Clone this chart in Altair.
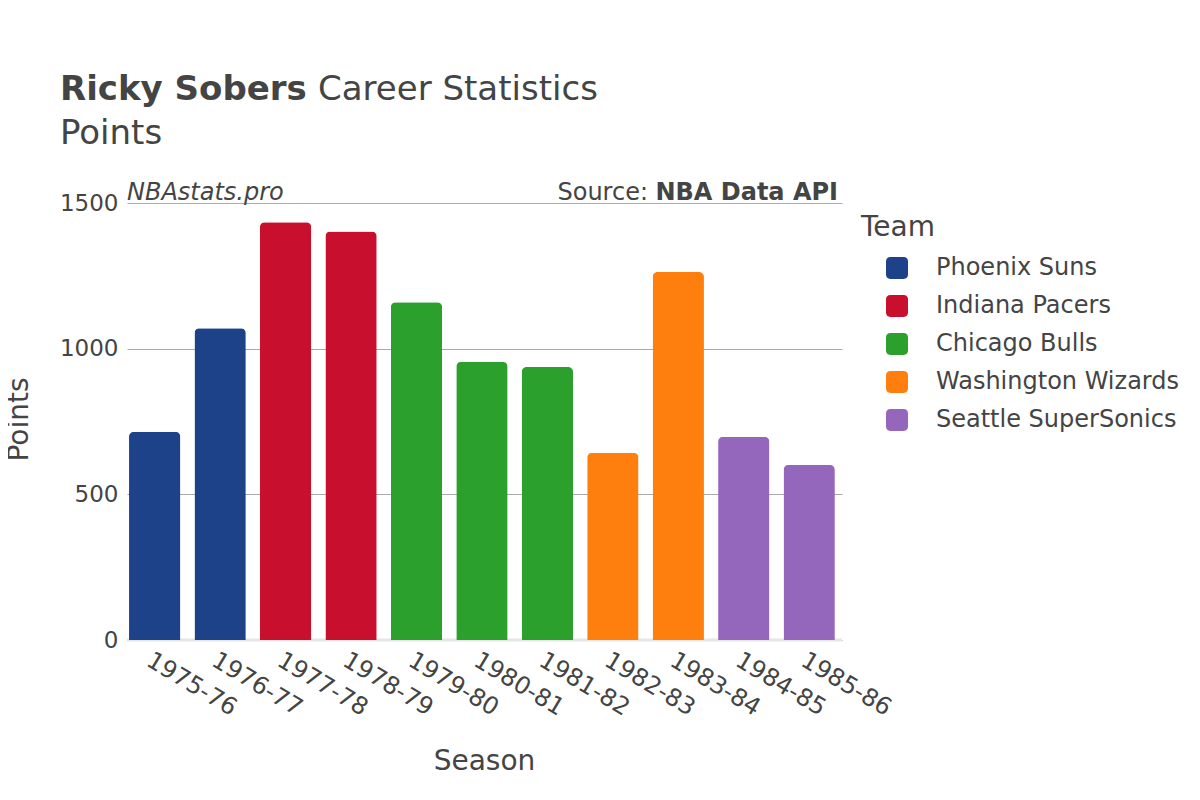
import altair as alt
import pandas as pd

seasons = ["1975-76", "1976-77", "1977-78", "1978-79", "1979-80", "1980-81",
           "1981-82", "1982-83", "1983-84", "1984-85", "1985-86"]
points = [715, 1070, 1434, 1402, 1159, 955, 937, 643, 1263, 698, 601]
teams = ["Phoenix Suns", "Phoenix Suns", "Indiana Pacers", "Indiana Pacers",
         "Chicago Bulls", "Chicago Bulls", "Chicago Bulls",
         "Washington Wizards", "Washington Wizards",
         "Seattle SuperSonics", "Seattle SuperSonics"]
team_order = ["Phoenix Suns", "Indiana Pacers", "Chicago Bulls",
              "Washington Wizards", "Seattle SuperSonics"]
team_colors = ["#1d428a", "#c8102e", "#2ca02c", "#ff7f0e", "#9467bd"]
y_ticks = [0, 500, 1000, 1500]

title_bold = ["Ricky Sobers"]
title_rest = ["Career Statistics"]
subtitle = ["Points"]
watermark = ["NBAstats.pro"]
source_lbl = ["Source:"]
source_bold = ["NBA Data API"]

df = pd.DataFrame({"Season": seasons, "Points": points, "Team": teams})

TXT = "#444444"
FONT = "DejaVu Sans"

rounded = ("M-0.6,-1H0.6C0.85,-1 1,-0.85 1,-0.6V0.6C1,0.85 0.85,1 0.6,1H-0.6"
           "C-0.85,1 -1,0.85 -1,0.6V-0.6C-1,-0.85 -0.85,-1 -0.6,-1Z")

bars = alt.Chart(df).mark_bar(cornerRadiusTopLeft=5, cornerRadiusTopRight=5).encode(
    x=alt.X("Season:N", sort=seasons,
            scale=alt.Scale(paddingInner=0.216, paddingOuter=0.07, align=0.22),
            axis=alt.Axis(title="Season", labelAngle=31, labelAlign="left",
                          labelBaseline="top", labelFontSize=24, labelColor=TXT,
                          labelPadding=8, ticks=False, domain=False, grid=False,
                          titleFontSize=28, titleColor=TXT, titleFontWeight="normal",
                          titleX=357, titleY=129, titleBaseline="alphabetic")),
    y=alt.Y("Points:Q", scale=alt.Scale(domain=[0, 1500], nice=False),
            axis=alt.Axis(title="Points", values=y_ticks, format="d", labelFontSize=23,
                          labelColor=TXT, labelPadding=9, ticks=False, domain=False,
                          grid=True, gridColor="#aaaaaa", gridWidth=1,
                          titleFontSize=28, titleColor=TXT, titleFontWeight="normal",
                          titleX=-108, titleY=216, titleBaseline="middle")),
    color=alt.Color("Team:N", sort=team_order,
                    scale=alt.Scale(domain=team_order, range=team_colors),
                    legend=alt.Legend(title="Team", orient="none", legendX=734, legendY=11,
                                      titleFontSize=28, titleColor=TXT,
                                      titleFontWeight="normal", titlePadding=14,
                                      labelFontSize=24, labelColor=TXT, labelLimit=400,
                                      symbolType=rounded, symbolSize=484,
                                      symbolOffset=24, labelOffset=27,
                                      symbolStrokeWidth=0, rowPadding=14, padding=0)),
)

zero = alt.Chart(pd.DataFrame({"z": [0]})).mark_rule(color="#e6e6e6", strokeWidth=3).encode(
    y=alt.Y("z:Q")
)


def txt(values, x, y, size, weight="normal", style="normal", align="left"):
    return alt.Chart(pd.DataFrame({"t": values})).mark_text(
        align=align, baseline="alphabetic", fontSize=size, fontWeight=weight,
        fontStyle=style, color=TXT, font=FONT
    ).encode(x=alt.value(x), y=alt.value(y), text="t:N")


layers = alt.layer(
    zero, bars,
    txt(title_bold, -67, -103, 34, weight="bold"),
    txt(title_rest, 191, -103, 34),
    txt(subtitle, -67, -59, 34),
    txt(watermark, 0, -3, 24, style="italic"),
    txt(source_lbl, 521, -3, 24, align="right"),
    txt(source_bold, 711, -3, 24, weight="bold", align="right"),
).properties(
    width=715, height=437,
    autosize=alt.AutoSizeParams(type="none"),
    padding={"left": 119, "top": 195, "right": 350, "bottom": 152},
).configure(font=FONT).configure_view(stroke=None)

layers.save("out.html", embed_options={"renderer": "svg", "actions": False})
